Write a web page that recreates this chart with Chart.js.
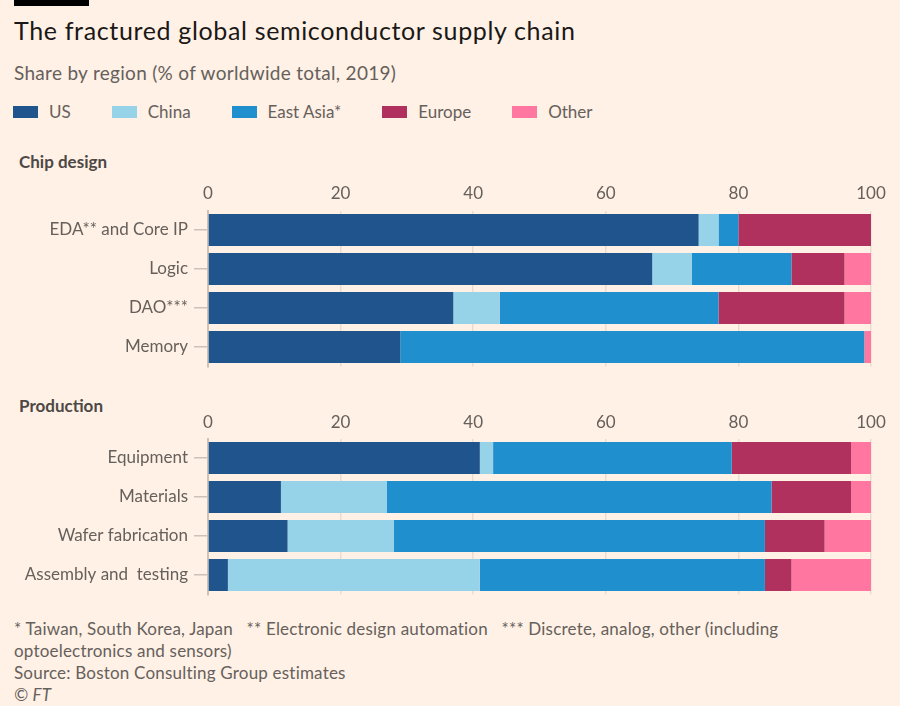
<!DOCTYPE html>
<html>
<head>
<meta charset="utf-8">
<script src="https://cdn.jsdelivr.net/npm/chart.js@4"></script>
<style>
  body { margin: 0; background: #fff1e5; font-family: Lato, "Open Sans", sans-serif; }
  #page { position: relative; width: 900px; height: 706px; overflow: hidden; background: #fff1e5; }
  .bar { position: absolute; left: 14px; top: 0; width: 75px; height: 6px; background: #000; }
  .title { position: absolute; left: 14px; top: 15px; font-size: 25px; letter-spacing: 0.65px; color: #1a1817; white-space: nowrap; }
  .sub { position: absolute; left: 14px; top: 61px; font-size: 19px; letter-spacing: 0.3px; color: #66605c; white-space: nowrap; }
  #legend { position: absolute; left: 13px; top: 101px; display: flex; font-size: 17px; color: #66605c; }
  #legend .item { display: flex; align-items: center; margin-right: 41px; }
  #legend .sw { width: 25px; height: 12px; margin-right: 11px; }
  .section { position: absolute; left: 19px; font-size: 17px; font-weight: bold; color: #4d4845; }
  canvas { position: absolute; left: 0; }
  .notes { position: absolute; left: 14px; top: 618px; font-size: 17px; letter-spacing: 0.2px; line-height: 22px; color: #66605c; white-space: nowrap; }
</style>
</head>
<body>
<div id="page">
  <div class="bar"></div>
  <div class="title">The fractured global semiconductor supply chain</div>
  <div class="sub">Share by region (% of worldwide total, 2019)</div>
  <div id="legend"></div>
  <div class="section" style="top:151px">Chip design</div>
  <div style="position:absolute;left:0;top:176px;width:900px;height:200px"><canvas id="designChart"></canvas></div>
  <div class="section" style="top:395px">Production</div>
  <div style="position:absolute;left:0;top:404px;width:900px;height:200px"><canvas id="prodChart"></canvas></div>
  <div class="notes">* Taiwan, South Korea, Japan &nbsp; ** Electronic design automation &nbsp; *** Discrete, analog, other (including<br>optoelectronics and sensors)<br>Source: Boston Consulting Group estimates<br><i>©&nbsp;FT</i></div>
</div>
<script>
const regions = ['US', 'China', 'East Asia*', 'Europe', 'Other'];
const regionColors = ['#1f558c', '#96d2e8', '#208fce', '#b0315e', '#ff77a0'];

// Chip design
const designCats = ['EDA** and Core IP', 'Logic', 'DAO***', 'Memory'];
const designUS = [74, 67, 37, 29];
const designChina = [3, 6, 7, 0];
const designEastAsia = [3, 15, 33, 70];
const designEurope = [20, 8, 19, 0];
const designOther = [0, 4, 4, 1];

// Production
const prodCats = ['Equipment', 'Materials', 'Wafer fabrication', 'Assembly and  testing'];
const prodUS = [41, 11, 12, 3];
const prodChina = [2, 16, 16, 38];
const prodEastAsia = [36, 58, 56, 43];
const prodEurope = [18, 12, 9, 4];
const prodOther = [3, 3, 7, 12];

const xMin = 0, xMax = 100, xStep = 20;

// Legende
const legend = document.getElementById('legend');
regions.forEach((r, i) => {
    const item = document.createElement('div');
    item.className = 'item';
    item.innerHTML = '<span class="sw" style="background:' + regionColors[i] + '"></span>' + r;
    legend.appendChild(item);
});

function makeChart(id, labels, series, tickPad) {
    new Chart(document.getElementById(id), {
        type: 'bar',
        data: {
            labels: labels,
            datasets: series.map((s, i) => ({
                label: regions[i],
                data: s,
                backgroundColor: regionColors[i],
                borderWidth: 0,
                barPercentage: 0.82,
                categoryPercentage: 1
            }))
        },
        options: {
            indexAxis: 'y',
            responsive: true,
            maintainAspectRatio: false,
            animation: false,
            layout: { padding: { left: 0, right: 29, top: 0, bottom: 9.5 } },
            plugins: { legend: { display: false }, tooltip: { enabled: false } },
            scales: {
                x: {
                    position: 'top',
                    stacked: true,
                    min: xMin,
                    max: xMax,
                    ticks: { stepSize: xStep, padding: tickPad, color: '#66605c', font: { family: 'Lato', size: 17 } },
                    grid: { color: '#e9ddd2', lineWidth: 1.5, drawTicks: false },
                    border: { display: false },
                    afterFit: (s) => { s.height = 34.5; s.paddingLeft = 0; s.paddingRight = 0; }
                },
                y: {
                    stacked: true,
                    ticks: { padding: 6, color: '#66605c', font: { family: 'Lato', size: 17 } },
                    grid: { offset: false, drawOnChartArea: false, drawTicks: true, tickLength: 14, color: '#cdc2b8', lineWidth: 1.5 },
                    border: { display: true, color: '#cdc2b8', width: 2 },
                    afterFit: (s) => { s.width = 208; s.paddingTop = 0; s.paddingBottom = 0; }
                }
            }
        }
    });
}

makeChart('designChart', designCats, [designUS, designChina, designEastAsia, designEurope, designOther], 7);
makeChart('prodChart', prodCats, [prodUS, prodChina, prodEastAsia, prodEurope, prodOther], 5.5);
</script>
</body>
</html>
